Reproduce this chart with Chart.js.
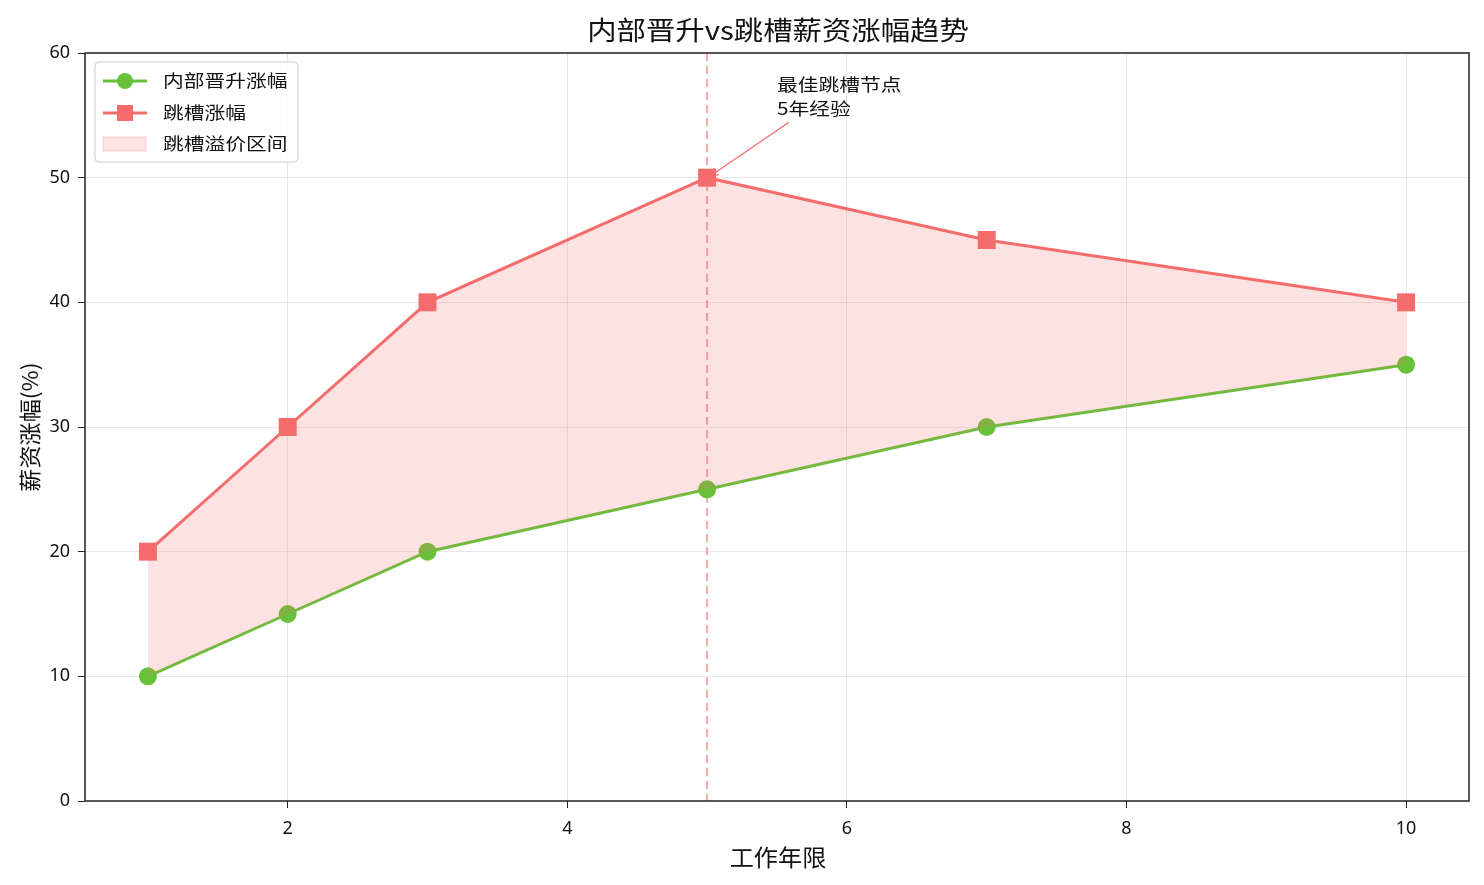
<!DOCTYPE html>
<html>
<head>
<meta charset="utf-8">
<script src="https://cdn.jsdelivr.net/npm/chart.js@4"></script>
<style>
  html, body { margin: 0; padding: 0; background: #fff; }
  #wrap { width: 1484px; height: 885px; }
</style>
</head>
<body>
<div id="wrap"><canvas id="chart" width="1484" height="885"></canvas></div>
<script>
// 数据
const years = [1, 2, 3, 5, 7, 10];
const internalRise = [10, 15, 20, 25, 30, 35];
const jumpRise = [20, 30, 40, 50, 45, 40];
const xTicks = [2, 4, 6, 8, 10];
const yTicks = [0, 10, 20, 30, 40, 50, 60];
const bestYear = 5;
const noteLines = ["最佳跳槽节点", "5年经验"];
const seriesNames = ["内部晋升涨幅", "跳槽涨幅", "跳槽溢价区间"];
const chartTitle = "内部晋升vs跳槽薪资涨幅趋势";
const xTitle = "工作年限";
const yTitle = "薪资涨幅(%)";

const FONT = "'Noto Sans CJK SC', 'Noto Sans', sans-serif";
const GREEN = "#67C23A";
const RED = "#F56C6C";
const FILL = "rgba(245,108,108,0.2)";

// 文字横向拉宽一点, 接近原图字体
function txt(ctx, s, x, y, font, sx, align) {
    ctx.save();
    ctx.translate(x, y);
    ctx.scale(sx, 1);
    ctx.font = font;
    ctx.textAlign = align || "left";
    ctx.textBaseline = "middle";
    ctx.fillText(s, 0, 0);
    ctx.restore();
}

// 边框 + 虚线 + 标注 + 图例 + 标题
const extras = {
    id: "extras",
    beforeDatasetsDraw(chart) {
        const { ctx, chartArea: a, scales: { x } } = chart;
        const px = x.getPixelForValue(bestYear);
        ctx.save();
        ctx.strokeStyle = "rgba(245,108,108,0.6)";
        ctx.lineWidth = 2;
        ctx.setLineDash([8, 5]);
        ctx.beginPath();
        ctx.moveTo(px, a.top);
        ctx.lineTo(px, a.bottom);
        ctx.stroke();
        ctx.restore();
    },
    afterDraw(chart) {
        const { ctx, chartArea: a, scales: { x, y } } = chart;
        ctx.save();
        // 边框
        ctx.strokeStyle = "#222";
        ctx.lineWidth = 1.5;
        ctx.strokeRect(a.left, a.top, a.right - a.left, a.bottom - a.top);

        // 标题和轴标题
        ctx.fillStyle = "#111";
        txt(ctx, chartTitle, (a.left + a.right) / 2 + 1, 30, "26px " + FONT, 1.13, "center");
        txt(ctx, xTitle, (a.left + a.right) / 2 + 1, 857, "23px " + FONT, 1.05, "center");
        ctx.save();
        ctx.translate(30, (a.top + a.bottom) / 2);
        ctx.rotate(-Math.PI / 2);
        txt(ctx, yTitle, 0, 0, "22px " + FONT, 1.05, "center");
        ctx.restore();

        // 标注
        const tx = x.getPixelForValue(5.5), ty = y.getPixelForValue(57.5);
        txt(ctx, noteLines[0], tx, ty, "17px " + FONT, 1.22);
        txt(ctx, noteLines[1], tx, ty + 24, "17px " + FONT, 1.22);
        const ax = x.getPixelForValue(bestYear), ay = y.getPixelForValue(jumpRise[3]);
        const sx = tx + 12, sy = ty + 38;
        ctx.strokeStyle = RED;
        ctx.lineWidth = 1.3;
        ctx.beginPath();
        ctx.moveTo(sx, sy);
        ctx.lineTo(ax + 2, ay - 1);
        ctx.stroke();
        const ang = Math.atan2(sy - ay, sx - ax);
        ctx.beginPath();
        ctx.moveTo(ax + 2 + 10 * Math.cos(ang - 0.4), ay - 1 + 10 * Math.sin(ang - 0.4));
        ctx.lineTo(ax + 2, ay - 1);
        ctx.lineTo(ax + 2 + 10 * Math.cos(ang + 0.4), ay - 1 + 10 * Math.sin(ang + 0.4));
        ctx.stroke();

        // 图例
        const lx = a.left + 10, ly = a.top + 9, lw = 203, lh = 100;
        ctx.fillStyle = "rgba(255,255,255,0.85)";
        ctx.strokeStyle = "#ccc";
        ctx.lineWidth = 1;
        ctx.beginPath();
        ctx.roundRect(lx, ly, lw, lh, 4);
        ctx.fill();
        ctx.stroke();
        const rows = [ly + 19, ly + 51, ly + 82];
        ctx.lineWidth = 3;
        ctx.strokeStyle = GREEN;
        ctx.beginPath(); ctx.moveTo(lx + 8, rows[0]); ctx.lineTo(lx + 52, rows[0]); ctx.stroke();
        ctx.fillStyle = GREEN;
        ctx.beginPath(); ctx.arc(lx + 30, rows[0], 8, 0, Math.PI * 2); ctx.fill();
        ctx.strokeStyle = RED;
        ctx.beginPath(); ctx.moveTo(lx + 8, rows[1]); ctx.lineTo(lx + 52, rows[1]); ctx.stroke();
        ctx.fillStyle = RED;
        ctx.fillRect(lx + 22, rows[1] - 8, 16, 16);
        ctx.fillStyle = FILL;
        ctx.strokeStyle = "rgba(245,108,108,0.3)";
        ctx.lineWidth = 1;
        ctx.fillRect(lx + 8, rows[2] - 7, 43, 14);
        ctx.strokeRect(lx + 8, rows[2] - 7, 43, 14);
        ctx.fillStyle = "#111";
        seriesNames.forEach((n, i) => txt(ctx, n, lx + 68, rows[i], "17px " + FONT, 1.22));
        ctx.restore();
    }
};

new Chart(document.getElementById("chart"), {
    type: "line",
    data: {
        datasets: [
            {
                label: seriesNames[0],
                data: years.map((v, i) => ({ x: v, y: internalRise[i] })),
                borderColor: GREEN,
                backgroundColor: GREEN,
                borderWidth: 3,
                pointStyle: "circle",
                pointRadius: 9,
                pointHoverRadius: 9,
                pointBorderWidth: 0,
                fill: false,
                order: 1
            },
            {
                label: seriesNames[1],
                data: years.map((v, i) => ({ x: v, y: jumpRise[i] })),
                borderColor: RED,
                backgroundColor: RED,
                borderWidth: 3,
                pointStyle: "rect",
                pointRadius: 12.7,
                pointHoverRadius: 12.7,
                pointBorderWidth: 0,
                fill: { target: 0, above: FILL, below: FILL },
                order: 0
            }
        ]
    },
    options: {
        responsive: false,
        animation: false,
        layout: { padding: { top: 53, right: 15, left: 0, bottom: 0 } },
        plugins: { legend: { display: false }, tooltip: { enabled: false } },
        scales: {
            x: {
                type: "linear",
                min: 0.55,
                max: 10.45,
                afterBuildTicks: s => { s.ticks = xTicks.map(v => ({ value: v })); },
                afterFit: s => { s.height = 84; },
                grid: { color: "rgba(0,0,0,0.09)", tickColor: "#222", tickLength: 7, lineWidth: 1 },
                border: { display: false },
                ticks: { color: "#111", font: { family: "'Noto Sans', sans-serif", size: 18 }, padding: 10, maxRotation: 0 }
            },
            y: {
                min: 0,
                max: 60,
                afterBuildTicks: s => { s.ticks = yTicks.map(v => ({ value: v })); },
                afterFit: s => { s.width = 85; },
                grid: { color: "rgba(0,0,0,0.09)", tickColor: "#222", tickLength: 7, lineWidth: 1 },
                border: { display: false },
                ticks: { color: "#111", font: { family: "'Noto Sans', sans-serif", size: 18 }, padding: 8 }
            }
        }
    },
    plugins: [extras]
});
</script>
</body>
</html>
